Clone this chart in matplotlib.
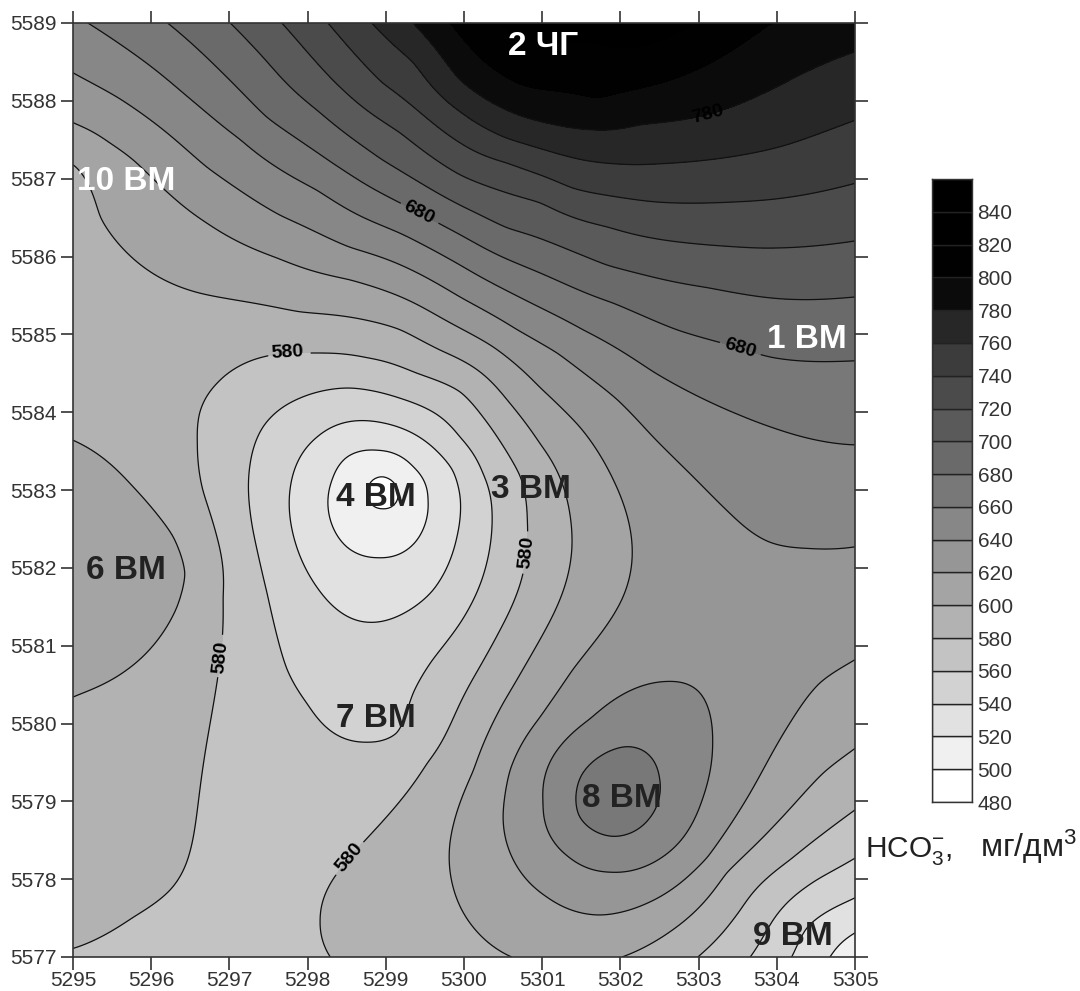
import numpy as np
import matplotlib
matplotlib.use("Agg")
import matplotlib.pyplot as plt

plt.rcParams["font.family"] = ["Liberation Sans", "DejaVu Sans"]
plt.rcParams["mathtext.fontset"] = "custom"
plt.rcParams["mathtext.rm"] = "Liberation Sans"
plt.rcParams["mathtext.it"] = "Liberation Sans"

# Isolines (x, y) for each HCO3 level
iso_800 = [(5299.82, 5589.0), (5300.75, 5588.20), (5301.70, 5588.04), (5302.34, 5588.18),
           (5303.02, 5588.42), (5303.95, 5589.0)]
iso_780 = [(5299.35, 5589.0), (5299.95, 5588.27), (5300.55, 5587.88), (5301.61, 5587.63),
           (5302.25, 5587.69), (5303.11, 5587.82), (5304.04, 5588.20), (5305.0, 5588.63)]
iso_760 = [(5298.82, 5589.0), (5299.35, 5588.49), (5299.95, 5587.86), (5300.55, 5587.52),
           (5301.39, 5587.27), (5302.21, 5587.18), (5303.11, 5587.24), (5304.04, 5587.41),
           (5305.0, 5587.75)]
iso_740 = [(5298.26, 5589.0), (5298.96, 5588.23), (5299.95, 5587.46), (5300.55, 5587.20),
           (5301.39, 5586.88), (5302.47, 5586.70), (5303.44, 5586.70), (5305.0, 5586.94)]
iso_720 = [(5297.67, 5589.0), (5298.32, 5588.27), (5299.18, 5587.59), (5299.95, 5587.05),
           (5300.97, 5586.69), (5301.83, 5586.38), (5303.11, 5586.15), (5303.75, 5586.11),
           (5305.0, 5586.20)]
iso_700 = [(5297.01, 5589.0), (5297.43, 5588.56), (5298.12, 5587.88), (5298.96, 5587.24),
           (5299.95, 5586.66), (5300.55, 5586.37), (5301.83, 5585.89), (5303.11, 5585.60),
           (5304.17, 5585.45), (5305.0, 5585.48)]
iso_680 = [(5296.21, 5589.0), (5296.84, 5588.43), (5297.48, 5587.79), (5298.32, 5587.20),
           (5299.18, 5586.69), (5299.95, 5586.28), (5300.97, 5585.79), (5301.91, 5585.40),
           (5302.72, 5585.06), (5303.40, 5584.86), (5303.91, 5584.71), (5305.0, 5584.66)]
iso_660 = [(5295.19, 5589.0), (5295.77, 5588.61), (5296.41, 5588.10), (5297.14, 5587.50),
           (5298.12, 5586.85), (5299.18, 5586.30), (5299.95, 5585.89), (5301.52, 5585.06),
           (5302.42, 5584.52), (5303.53, 5583.96), (5303.95, 5583.80), (5305.0, 5583.58),
           # ring around 8 BM
           (5302.05, 5579.70), (5302.50, 5579.30), (5302.37, 5578.78), (5301.91, 5578.55),
           (5301.47, 5578.82), (5301.50, 5579.33)]
iso_640 = [(5295.0, 5588.36), (5295.56, 5588.05), (5296.20, 5587.59), (5296.71, 5587.15),
           (5297.65, 5586.53), (5298.54, 5586.12), (5299.95, 5585.48), (5300.68, 5585.06),
           (5301.19, 5584.76), (5301.96, 5584.16), (5302.42, 5583.68), (5302.93, 5583.17),
           (5303.40, 5582.70), (5303.91, 5582.33), (5304.39, 5582.25), (5305.0, 5582.27),
           # ring around 8 BM
           (5302.59, 5580.54), (5303.01, 5580.40), (5303.18, 5579.76), (5303.05, 5579.03),
           (5302.67, 5578.39), (5301.87, 5578.09), (5301.32, 5578.30), (5301.01, 5578.99),
           (5301.14, 5579.58), (5301.61, 5580.06)]
iso_620 = [(5295.0, 5587.72), (5295.47, 5587.46), (5295.77, 5587.24), (5296.28, 5586.76),
           (5296.71, 5586.43), (5297.61, 5585.98), (5298.54, 5585.70), (5299.95, 5585.08),
           (5300.37, 5584.84), (5300.97, 5584.32), (5301.48, 5583.81), (5301.91, 5583.13),
           (5302.15, 5582.27), (5302.03, 5581.62), (5301.39, 5580.69), (5300.97, 5580.08),
           (5300.59, 5579.40), (5300.50, 5578.80), (5300.63, 5578.25), (5301.06, 5577.77),
           (5301.74, 5577.54), (5302.34, 5577.69), (5303.11, 5578.28), (5303.66, 5579.11),
           (5304.17, 5580.01), (5304.55, 5580.52), (5305.0, 5580.82)]
iso_600 = [(5295.0, 5587.18), (5295.35, 5586.51), (5295.95, 5585.83), (5296.62, 5585.53),
           (5297.90, 5585.29), (5299.18, 5585.06), (5299.69, 5584.80), (5300.55, 5584.16),
           (5300.97, 5583.60), (5301.36, 5582.65), (5301.38, 5582.27), (5301.27, 5581.71),
           (5300.75, 5580.69), (5300.50, 5580.26), (5300.12, 5579.40), (5299.82, 5578.46),
           (5299.86, 5577.90), (5300.12, 5577.38), (5300.61, 5577.0),
           # lower right part
           (5302.02, 5577.0), (5302.67, 5577.35), (5303.36, 5578.08), (5303.95, 5578.67),
           (5304.59, 5579.36), (5305.0, 5579.68),
           # lobe around 6 BM
           (5295.0, 5583.64), (5295.77, 5583.04), (5296.28, 5582.40), (5296.43, 5581.93),
           (5296.33, 5581.50), (5295.69, 5580.69), (5295.0, 5580.34)]
iso_580 = [(5295.0, 5577.11), (5295.77, 5577.51), (5296.24, 5577.86), (5296.50, 5578.37),
           (5296.59, 5578.89), (5296.71, 5579.75), (5296.84, 5580.52), (5296.91, 5581.11),
           (5296.92, 5581.62), (5296.84, 5582.40), (5296.66, 5583.00), (5296.59, 5583.60),
           (5296.62, 5583.99), (5296.84, 5584.37), (5297.30, 5584.67), (5297.74, 5584.76),
           (5298.03, 5584.76), (5298.76, 5584.70), (5299.40, 5584.50), (5299.95, 5584.26),
           (5300.33, 5583.82), (5300.72, 5583.17), (5300.81, 5582.61), (5300.72, 5581.80),
           (5300.46, 5581.20), (5300.18, 5580.69), (5299.95, 5580.26), (5299.53, 5579.49),
           (5298.70, 5578.46), (5298.32, 5577.99), (5298.16, 5577.47), (5298.29, 5577.0),
           # lower right part
           (5302.99, 5577.0), (5303.53, 5577.60), (5304.17, 5578.25), (5305.0, 5578.89)]
iso_560 = [(5298.54, 5584.31), (5297.90, 5584.18), (5297.43, 5583.81), (5297.26, 5583.30),
           (5297.30, 5582.49), (5297.48, 5581.68), (5297.74, 5580.69), (5297.99, 5580.26),
           (5298.76, 5579.76), (5299.14, 5579.88), (5299.35, 5580.39), (5299.60, 5580.82),
           (5299.95, 5581.29), (5300.29, 5582.06), (5300.36, 5582.65), (5300.24, 5583.22),
           (5299.95, 5583.68), (5299.18, 5584.18),
           # lower right part
           (5303.66, 5577.0), (5303.95, 5577.47), (5304.51, 5577.99), (5305.0, 5578.27)]
iso_540 = [(5298.76, 5583.89), (5298.12, 5583.68), (5297.78, 5583.04), (5297.81, 5582.45),
           (5298.12, 5581.75), (5298.80, 5581.30), (5299.60, 5581.71), (5299.91, 5582.40),
           (5299.95, 5582.91), (5299.85, 5583.26), (5299.60, 5583.55),
           # lower right part
           (5304.19, 5577.0), (5304.39, 5577.38), (5305.0, 5577.76)]
iso_520 = [(5298.90, 5583.51), (5298.50, 5583.42), (5298.32, 5583.15), (5298.26, 5582.87),
           (5298.50, 5582.27), (5298.90, 5582.13), (5299.40, 5582.36), (5299.54, 5582.87),
           (5299.35, 5583.30),
           # lower right part
           (5304.68, 5577.0), (5305.0, 5577.31)]
iso_500 = [(5298.96, 5583.17), (5298.77, 5582.96), (5298.96, 5582.76), (5299.16, 5582.96)]

# Peaks and pits between the isolines (x, y, value)
extremes = [(5301.74, 5589.0, 835), (5301.60, 5588.65, 815), (5298.96, 5582.96, 494),
            (5302.03, 5579.08, 672), (5295.0, 5581.97, 616), (5295.7, 5581.97, 610),
            (5305.0, 5577.0, 508)]

isolines = {800: iso_800, 780: iso_780, 760: iso_760, 740: iso_740, 720: iso_720,
            700: iso_700, 680: iso_680, 660: iso_660, 640: iso_640, 620: iso_620,
            600: iso_600, 580: iso_580, 560: iso_560, 540: iso_540, 520: iso_520,
            500: iso_500}

levels = list(range(480, 861, 20))
colors = ["#ffffff", "#f0f0f0", "#e1e1e1", "#d2d2d2", "#c3c3c3", "#b2b2b2", "#a4a4a4",
          "#969696", "#878787", "#787878", "#6a6a6a", "#5a5a5a", "#4b4b4b", "#3c3c3c",
          "#272727", "#0b0b0b", "#010101", "#000000", "#000000"]
cbar_ticks = list(range(480, 841, 20))
labeled = [580, 680, 780]

x_ticks = list(range(5295, 5306))
y_ticks = list(range(5577, 5590))

wells = ["2 ЧГ", "10 ВМ", "1 ВМ", "4 ВМ", "3 ВМ", "6 ВМ", "7 ВМ", "8 ВМ", "9 ВМ"]
wells_x = [5301.01, 5295.68, 5304.39, 5298.87, 5300.86, 5295.68, 5298.87, 5302.02, 5304.21]
wells_y = [5588.70, 5586.97, 5584.94, 5582.91, 5583.00, 5581.97, 5580.07, 5579.04, 5577.26]
wells_col = ["white", "white", "white", "#222222", "#222222", "#222222", "#222222", "#222222", "#222222"]

# Where the isoline labels sit
label_pos = [(5297.74, 5584.76), (5296.91, 5580.85), (5300.80, 5582.20), (5298.62, 5578.20),
             (5299.40, 5586.53), (5303.53, 5584.82), (5303.11, 5587.82)]

# Surface through the read points (thin plate spline)
px, py, pz = [], [], []
for lev, pts in isolines.items():
    for a, b in pts:
        px.append(a)
        py.append(b)
        pz.append(lev)
for a, b, c in extremes:
    px.append(a)
    py.append(b)
    pz.append(c)
px, py, pz = np.array(px), np.array(py), np.array(pz, dtype=float)
x0, y0 = px - 5300, py - 5583


def tps(r2):
    return 0.5 * r2 * np.log(r2 + 1e-12)


n = len(px)
K = tps((x0[:, None] - x0[None, :]) ** 2 + (y0[:, None] - y0[None, :]) ** 2) + 0.002 * np.eye(n)
P = np.column_stack([np.ones(n), x0, y0])
A = np.block([[K, P], [P.T, np.zeros((3, 3))]])
sol = np.linalg.solve(A, np.concatenate([pz, np.zeros(3)]))

gx = np.linspace(5295, 5305, 301)
gy = np.linspace(5577, 5589, 361)
Z = np.zeros((len(gy), len(gx)))
for i, yy in enumerate(gy):
    r2 = (gx[:, None] - px[None, :]) ** 2 + (yy - py[None, :]) ** 2
    Z[i] = tps(r2) @ sol[:n] + sol[n] + sol[n + 1] * (gx - 5300) + sol[n + 2] * (yy - 5583)
Z = np.clip(Z, 481, 859)

fig = plt.figure(figsize=(10.8, 9.91), dpi=100)
W, H = 1080, 991
ax = fig.add_axes([73 / W, 1 - 957 / H, (855 - 73) / W, (957 - 23) / H])

ax.contourf(gx, gy, Z, levels=levels, colors=colors)
plain = [v for v in levels[1:16] if v not in labeled]
ax.contour(gx, gy, Z, levels=plain, colors="#111111", linewidths=0.9)
cs = ax.contour(gx, gy, Z, levels=labeled, colors="#111111", linewidths=0.9)
for t in ax.clabel(cs, manual=label_pos, fmt="%d", fontsize=14, colors="#000000", inline=True):
    t.set_fontweight("bold")

for name, a, b, col in zip(wells, wells_x, wells_y, wells_col):
    ax.text(a, b, name, color=col, fontsize=24, fontweight="bold", ha="center", va="center", clip_on=False)

ax.set_xlim(5295, 5305)
ax.set_ylim(5577, 5589)
ax.set_xticks(x_ticks)
ax.set_yticks(y_ticks)
ax.tick_params(axis="both", direction="out", length=9, width=1.2, color="#333333",
               top=True, right=True, labelsize=15, labelcolor="#333333")
ax.tick_params(axis="x", pad=1)
ax.tick_params(axis="y", pad=3)
for s in ax.spines.values():
    s.set_linewidth(1.2)
    s.set_color("#333333")

# Colour scale on the right
cax = fig.add_axes([932 / W, 1 - 802 / H, 40 / W, (802 - 179) / H])
for lev, col in zip(levels[:-1], colors):
    cax.bar(0, 20, bottom=lev, width=1, color=col, edgecolor="#222222", linewidth=1)
cax.set_xlim(-0.5, 0.5)
cax.set_ylim(480, 860)
cax.set_xticks([])
cax.yaxis.tick_right()
cax.set_yticks(cbar_ticks)
cax.tick_params(axis="y", length=0, labelsize=15, labelcolor="#333333", pad=4)
for s in cax.spines.values():
    s.set_linewidth(1)
    s.set_color("#333333")

fig.text(865 / W, 1 - 857 / H, "HCO$_3^{-}$,", fontsize=21.5, color="#222222", ha="left", va="baseline")
fig.text(980 / W, 1 - 857 / H, "мг/дм$^3$", fontsize=23, color="#222222", ha="left", va="baseline")

fig.savefig("out.png", dpi=100)
